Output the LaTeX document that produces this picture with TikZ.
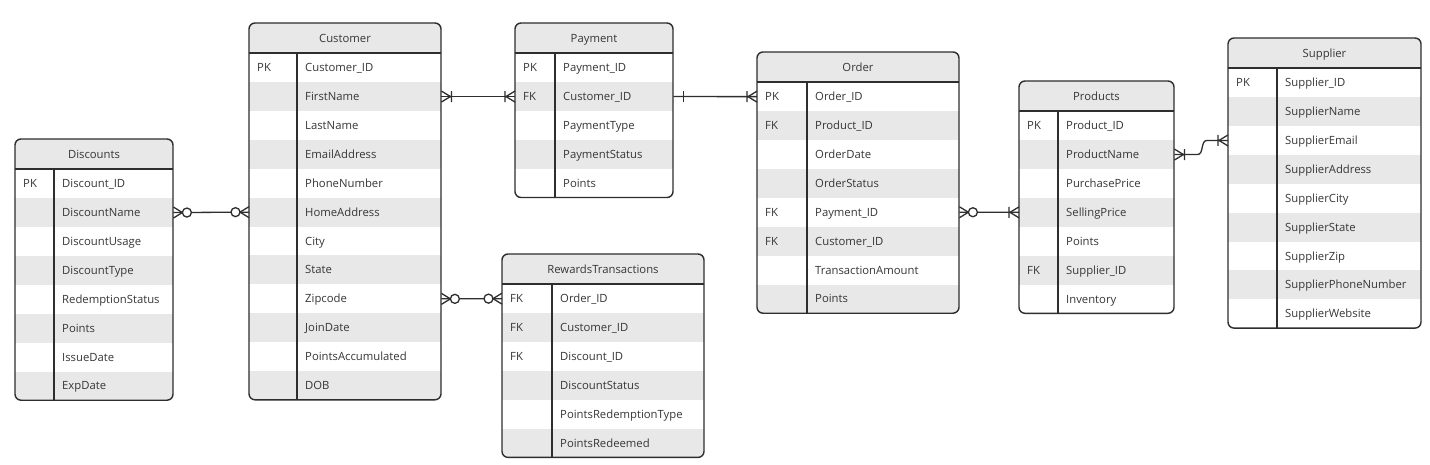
\documentclass[tikz,border=0pt]{standalone}
\usepackage{fontspec}
\setmainfont{Open Sans}
\usepackage{tikz}
\usetikzlibrary{calc}

\definecolor{rowgrey}{HTML}{E8E8E8}
\definecolor{txtgrey}{HTML}{363636}
\definecolor{edgegrey}{HTML}{2E2E2E}

\tikzset{
  tblline/.style={draw=edgegrey, line width=1.4pt},
  conn/.style={draw=edgegrey, line width=1.3pt},
  erow/.style={anchor=north west, inner sep=0pt, minimum height=28.9pt},
  etext/.style={anchor=base west, inner sep=0pt, text=txtgrey, font=\fontsize{11.3}{13}\selectfont},
  ehead/.style={anchor=base, inner sep=0pt, text=txtgrey, font=\fontsize{11.3}{13}\selectfont},
  zeromany/.pic={\draw[conn] (-9,0) -- (0,-5.5) (-9,0) -- (0,5.5);
    \draw[conn, fill=white] (-13.5,0) circle (4.5pt);},
  onemany/.pic={\draw[conn] (-9,0) -- (0,-5.5) (-9,0) -- (0,5.5) (-10,-5.5) -- (-10,5.5);},
  onebar/.pic={\draw[conn] (-10,-5.5) -- (-10,5.5);}
}

% name, x, top, width, key column, title, rows
\newcommand{\ertable}[7]{%
  \foreach \kk/\ff [count=\i] in {#7} {\xdef\ernrows{\i}}
  \begin{scope}
    \clip[rounded corners=6pt] (#2,#3) rectangle ++(#4,30+\ernrows*28.9);
    \fill[rowgrey] (#2,#3) rectangle ++(#4,30);
    \foreach \kk/\ff [count=\i] in {#7} {
      \ifodd\i\def\rowcol{white}\else\def\rowcol{rowgrey}\fi
      \node[erow, minimum width=#4pt, fill=\rowcol] (#1-\i) at (#2,#3+30+\i*28.9-28.9) {};
      \node[etext] (#1-k\i) at ([xshift=8pt, yshift=-4pt]#1-\i.west) {\kk};
      \node[etext] (#1-f\i) at ([xshift=#5pt+8pt, yshift=-4pt]#1-\i.west) {\ff};
    }
  \end{scope}
  \node[ehead] (#1-title) at (#2+#4/2,#3+19.5) {#6};
  \draw[tblline] (#2,#3+30) -- ++(#4,0);
  \draw[tblline] (#2+#5,#3+30) -- (#2+#5,#3+30+\ernrows*28.9);
  \draw[tblline, rounded corners=6pt] (#2,#3) rectangle ++(#4,30+\ernrows*28.9);
}

\begin{document}
\begin{tikzpicture}[x=1pt, y=-1pt]
  \useasboundingbox[fill=white] (0,0) rectangle (1430,465);

  \ertable{disc}{15}{139}{158}{39}{Discounts}{PK/Discount\_ID, /DiscountName, /DiscountUsage, /DiscountType, /RedemptionStatus, /Points, /IssueDate, /ExpDate}
  \ertable{cust}{249}{23}{192}{48}{Customer}{PK/Customer\_ID, /FirstName, /LastName, /EmailAddress, /PhoneNumber, /HomeAddress, /City, /State, /Zipcode, /JoinDate, /PointsAccumulated, /DOB}
  \ertable{pay}{515}{23}{158}{40}{Payment}{PK/Payment\_ID, FK/Customer\_ID, /PaymentType, /PaymentStatus, /Points}
  \ertable{rew}{502}{254}{202}{50}{RewardsTransactions}{FK/Order\_ID, FK/Customer\_ID, FK/Discount\_ID, /DiscountStatus, /PointsRedemptionType, /PointsRedeemed}
  \ertable{ord}{757}{52}{202}{50}{Order}{PK/Order\_ID, FK/Product\_ID, /OrderDate, /OrderStatus, FK/Payment\_ID, FK/Customer\_ID, /TransactionAmount, /Points}
  \ertable{prod}{1019}{81}{155}{39}{Products}{PK/Product\_ID, /ProductName, /PurchasePrice, /SellingPrice, /Points, FK/Supplier\_ID, /Inventory}
  \ertable{sup}{1228}{38}{193}{49}{Supplier}{PK/Supplier\_ID, /SupplierName, /SupplierEmail, /SupplierAddress, /SupplierCity, /SupplierState, /SupplierZip, /SupplierPhoneNumber, /SupplierWebsite}

  \draw[conn] (disc-2.east) -- (cust-6.west);
  \draw[conn] (cust-2.east) -- (pay-2.west);
  \draw[conn] (pay-2.east) -- (ord-1.west);
  \draw[conn] (cust-9.east) -- (rew-1.west);
  \draw[conn] (ord-5.east) -- (prod-4.west);
  \draw[conn] (prod-2.east) -- ++(23,0) to[out=0, in=180] ([xshift=-21pt]sup-3.west) -- (sup-3.west);

  \pic[xscale=-1] at (disc-2.east) {zeromany};
  \pic at (cust-6.west) {zeromany};
  \pic[xscale=-1] at (cust-2.east) {onemany};
  \pic at (pay-2.west) {onemany};
  \pic[xscale=-1] at (pay-2.east) {onebar};
  \pic at (ord-1.west) {onemany};
  \pic[xscale=-1] at (cust-9.east) {zeromany};
  \pic at (rew-1.west) {zeromany};
  \pic[xscale=-1] at (ord-5.east) {zeromany};
  \pic at (prod-4.west) {onemany};
  \pic[xscale=-1] at (prod-2.east) {onemany};
  \pic at (sup-3.west) {onemany};
\end{tikzpicture}
\end{document}
